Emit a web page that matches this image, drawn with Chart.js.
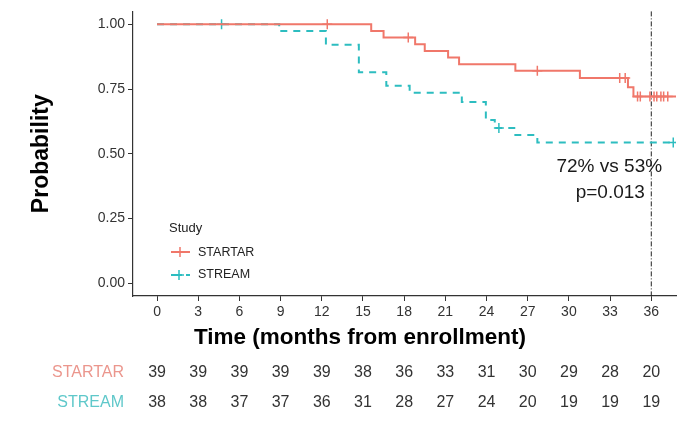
<!DOCTYPE html>
<html>
<head>
<meta charset="utf-8">
<script src="https://cdn.jsdelivr.net/npm/chart.js@4.4.1/dist/chart.umd.min.js"></script>
<style>
  html, body { margin: 0; padding: 0; background: #ffffff; }
  canvas { display: block; }
</style>
</head>
<body>
<canvas id="c" width="700" height="426"></canvas>
<script>
// ---- data ----
const timeTicks = [0, 3, 6, 9, 12, 15, 18, 21, 24, 27, 30, 33, 36];
const probTicks = [0, 0.25, 0.5, 0.75, 1];
const groups = ['STARTAR', 'STREAM'];

const startarTimes = [0, 15.6, 16.5, 18.8, 19.5, 21.2, 22.0, 26.1, 30.8, 34.3, 34.7, 37.9];
const startarSurv  = [1.0, 0.974, 0.949, 0.923, 0.897, 0.872, 0.846, 0.821, 0.793, 0.757, 0.721, 0.721];
const startarCensorTimes = [12.4, 18.3, 27.7, 33.7, 34.1, 35.0, 35.2, 35.9, 36.2, 36.4, 36.7, 36.9, 37.2];
const startarCensorSurv  = [1.0, 0.949, 0.821, 0.793, 0.793, 0.721, 0.721, 0.721, 0.721, 0.721, 0.721, 0.721, 0.721];

const streamTimes = [0, 8.9, 12.3, 14.7, 16.7, 18.4, 22.2, 23.95, 24.6, 26.1, 27.7, 37.8];
const streamSurv  = [1.0, 0.974, 0.921, 0.815, 0.763, 0.736, 0.700, 0.630, 0.599, 0.572, 0.543, 0.543];
const streamCensorTimes = [4.7, 24.9, 37.6];
const streamCensorSurv  = [1.0, 0.599, 0.543];

const startarAtRisk = [39, 39, 39, 39, 39, 38, 36, 33, 31, 30, 29, 28, 20];
const streamAtRisk  = [38, 38, 37, 37, 36, 31, 28, 27, 24, 20, 19, 19, 19];

const landmarkTime = 36;
const annotationLines = ['72% vs 53%', 'p=0.013'];

// ---- styles ----
const FONT = '"Liberation Sans", Arial, sans-serif';
const RED = '#F0776A';
const TEAL = '#2DBDC0';
const RED_LABEL = '#EB968D';
const TEAL_LABEL = '#5FC8CA';
const AXIS = '#333333';

const zip = (xs, ys) => xs.map((x, i) => ({ x: x, y: ys[i] }));

const overlay = {
  id: 'overlay',
  beforeDatasetsDraw(chart) {
    const { ctx, chartArea, scales } = chart;
    const x = scales.x.getPixelForValue(landmarkTime);
    ctx.save();
    ctx.strokeStyle = '#222';
    ctx.lineWidth = 1;
    ctx.setLineDash([5, 2, 1, 2]);
    ctx.beginPath();
    ctx.moveTo(x, chartArea.top);
    ctx.lineTo(x, chartArea.bottom);
    ctx.stroke();
    ctx.restore();
  },
  afterDraw(chart) {
    const { ctx, scales } = chart;
    const xs = scales.x;
    ctx.save();
    // annotation
    const ax = xs.getPixelForValue(landmarkTime) - 42;
    ctx.fillStyle = '#1a1a1a';
    ctx.font = '19px ' + FONT;
    ctx.textAlign = 'center';
    ctx.textBaseline = 'middle';
    ctx.fillText(annotationLines[0], ax, 167);
    ctx.fillText(annotationLines[1], ax + 1, 193);

    // legend
    ctx.textAlign = 'left';
    ctx.fillStyle = '#222';
    ctx.font = '13px ' + FONT;
    ctx.fillText('Study', 169, 228);
    ctx.font = '12.5px ' + FONT;
    // STARTAR symbol
    ctx.strokeStyle = RED;
    ctx.lineWidth = 2;
    ctx.beginPath(); ctx.moveTo(171, 252); ctx.lineTo(190, 252); ctx.stroke();
    ctx.lineWidth = 1.5;
    ctx.beginPath(); ctx.moveTo(180, 247); ctx.lineTo(180, 257); ctx.moveTo(175, 252); ctx.lineTo(185, 252); ctx.stroke();
    ctx.fillStyle = '#222';
    ctx.fillText(groups[0], 198, 253);
    // STREAM symbol
    ctx.strokeStyle = TEAL;
    ctx.lineWidth = 2;
    ctx.beginPath(); ctx.moveTo(171, 275); ctx.lineTo(182, 275); ctx.moveTo(186, 275); ctx.lineTo(190, 275); ctx.stroke();
    ctx.lineWidth = 1.5;
    ctx.beginPath(); ctx.moveTo(179, 270); ctx.lineTo(179, 280); ctx.moveTo(174, 275); ctx.lineTo(184, 275); ctx.stroke();
    ctx.fillText(groups[1], 198, 275);

    // x axis title
    ctx.fillStyle = '#000';
    ctx.font = 'bold 22.5px ' + FONT;
    ctx.textAlign = 'center';
    ctx.fillText('Time (months from enrollment)', 360, 338);

    // risk table
    ctx.font = '16px ' + FONT;
    ctx.textAlign = 'right';
    ctx.fillStyle = RED_LABEL;
    ctx.fillText(groups[0], 124, 373);
    ctx.fillStyle = TEAL_LABEL;
    ctx.fillText(groups[1], 124, 403);
    ctx.textAlign = 'center';
    ctx.fillStyle = '#333';
    timeTicks.forEach((t, i) => {
      const px = xs.getPixelForValue(t);
      ctx.fillText(String(startarAtRisk[i]), px, 373);
      ctx.fillText(String(streamAtRisk[i]), px, 403);
    });
    ctx.restore();
  }
};

new Chart(document.getElementById('c'), {
  type: 'line',
  data: {
    datasets: [
      {
        label: groups[0],
        data: zip(startarTimes, startarSurv),
        stepped: true,
        borderColor: RED,
        borderWidth: 2,
        pointRadius: 0,
        fill: false
      },
      {
        label: groups[1],
        data: zip(streamTimes, streamSurv),
        stepped: true,
        borderColor: TEAL,
        borderWidth: 2,
        borderDash: [7, 6],
        pointRadius: 0,
        fill: false
      },
      {
        label: groups[0] + ' censored',
        data: zip(startarCensorTimes, startarCensorSurv),
        showLine: false,
        pointStyle: 'cross',
        pointRadius: 5,
        pointBorderWidth: 1.5,
        pointBorderColor: RED,
        borderColor: RED
      },
      {
        label: groups[1] + ' censored',
        data: zip(streamCensorTimes, streamCensorSurv),
        showLine: false,
        pointStyle: 'cross',
        pointRadius: 5,
        pointBorderWidth: 1.5,
        pointBorderColor: TEAL,
        borderColor: TEAL
      }
    ]
  },
  options: {
    responsive: false,
    animation: false,
    devicePixelRatio: 1,
    layout: { padding: { top: 10, right: 24, left: 0, bottom: 0 } },
    plugins: {
      legend: { display: false },
      tooltip: { enabled: false }
    },
    scales: {
      x: {
        type: 'linear',
        min: -1.75,
        max: 37.8,
        afterBuildTicks: s => { s.ticks = timeTicks.map(v => ({ value: v })); },
        afterFit: s => { s.height = 130; },
        grid: { drawOnChartArea: false, drawTicks: true, tickLength: 5, color: AXIS, lineWidth: 1 },
        border: { display: true, color: AXIS, width: 1.2 },
        ticks: {
          autoSkip: false, maxRotation: 0, padding: 3,
          color: '#333', font: { family: FONT, size: 14 },
          callback: v => String(v)
        }
      },
      y: {
        type: 'linear',
        min: -0.05,
        max: 1.05,
        afterBuildTicks: s => { s.ticks = probTicks.map(v => ({ value: v })); },
        afterFit: s => { s.width = 133; },
        grid: { drawOnChartArea: false, drawTicks: true, tickLength: 5, color: AXIS, lineWidth: 1 },
        border: { display: true, color: AXIS, width: 1.2 },
        ticks: {
          padding: 3,
          color: '#333', font: { family: FONT, size: 14 },
          callback: v => Number(v).toFixed(2)
        },
        title: {
          display: true,
          text: 'Probability',
          color: '#000',
          font: { family: FONT, size: 23, weight: 'bold' },
          padding: { top: 28, bottom: 0 }
        }
      }
    }
  },
  plugins: [overlay]
});
</script>
</body>
</html>
